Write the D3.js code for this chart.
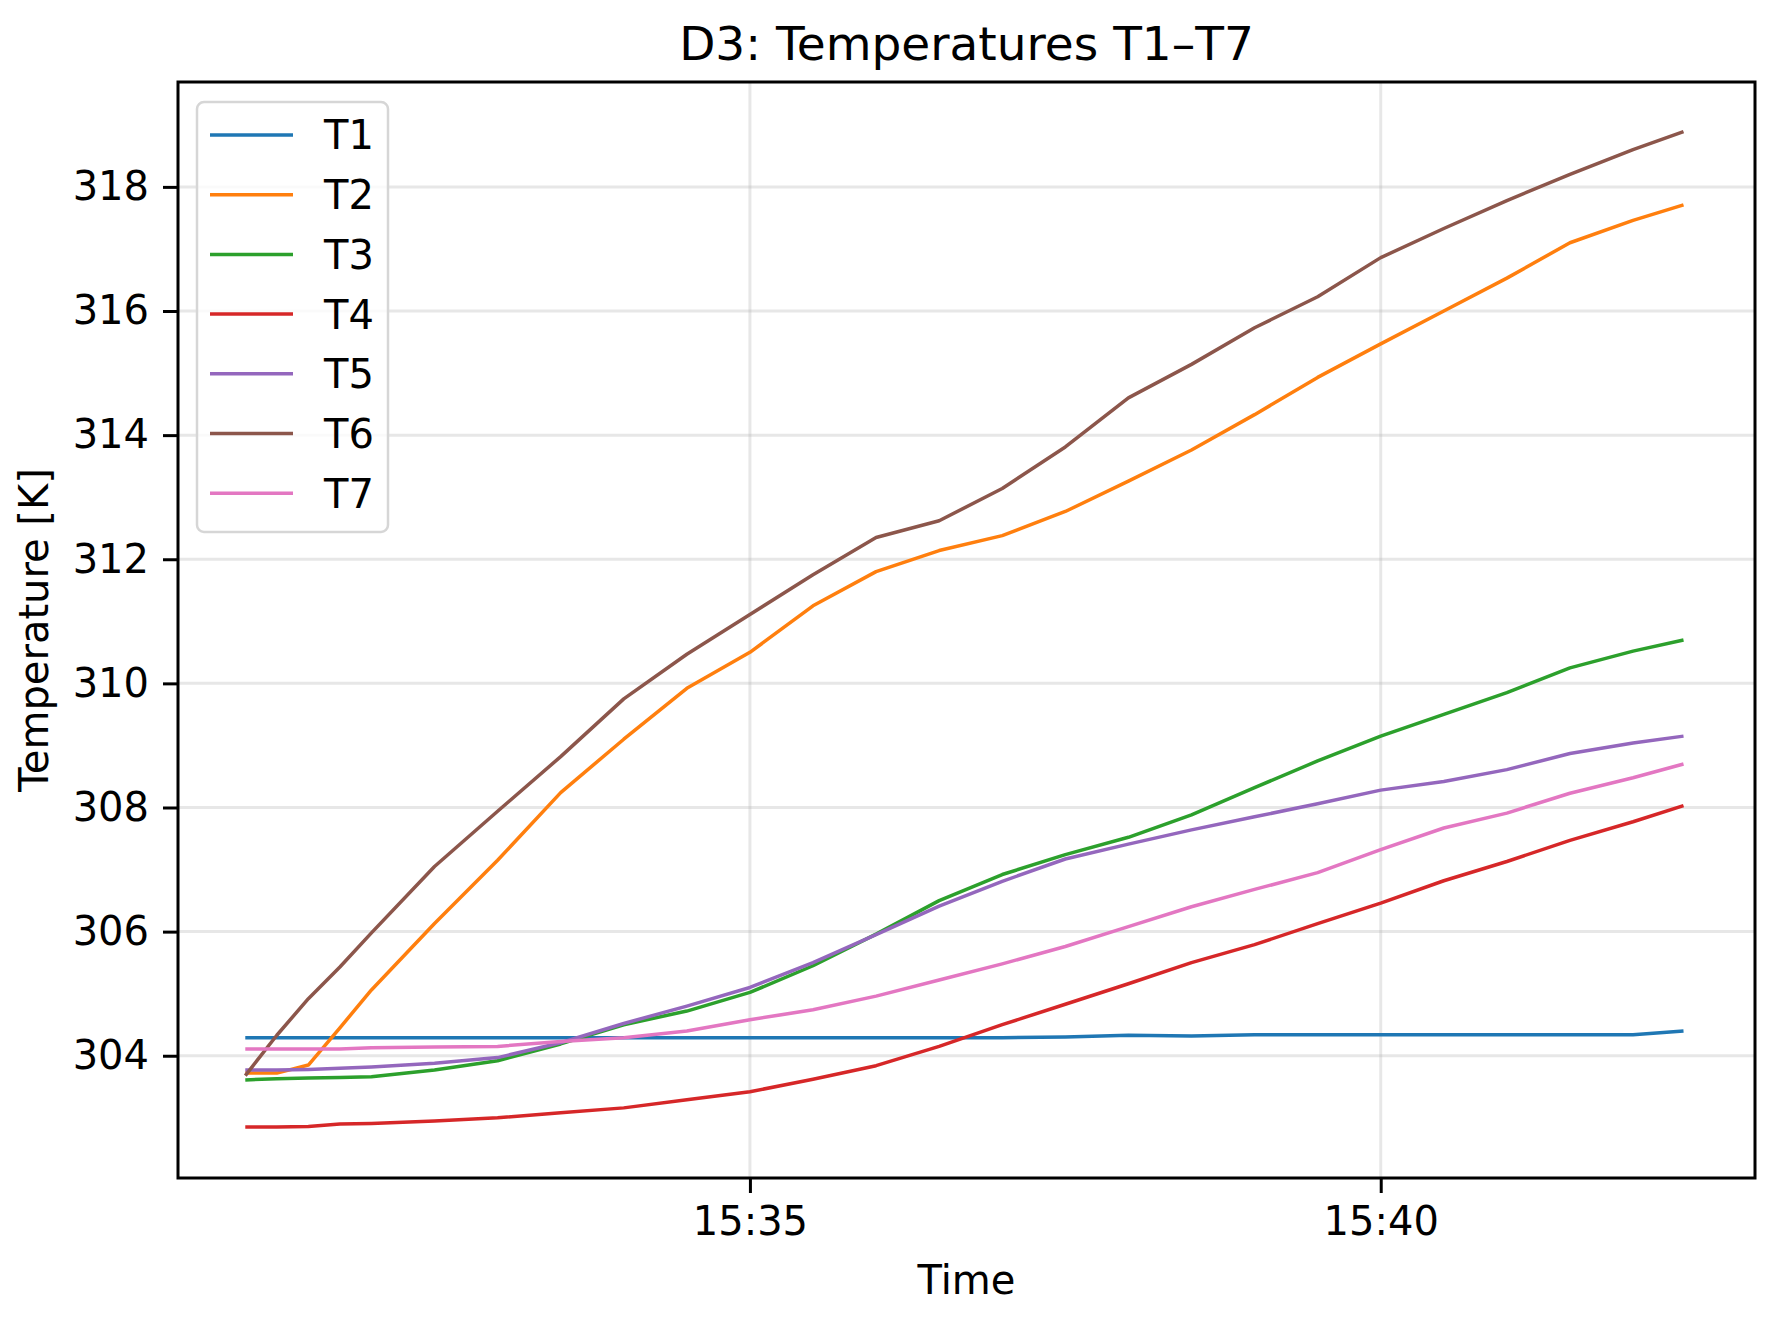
<!DOCTYPE html>
<html>
<head>
<meta charset="utf-8">
<script src="https://cdn.jsdelivr.net/npm/d3@7"></script>
<style>
    body { margin: 0; background: #fff; }
    text { font-family: "DejaVu Sans", sans-serif; fill: #000; }
</style>
</head>
<body>
<svg id="chart" width="1779" height="1326"></svg>
<script>
// sample times (HH:MM:SS)
var times = ["15:31:00", "15:31:15", "15:31:30", "15:31:45", "15:32:00", "15:32:30", "15:33:00",
    "15:33:30", "15:34:00", "15:34:30", "15:35:00", "15:35:30", "15:36:00", "15:36:30", "15:37:00",
    "15:37:30", "15:38:00", "15:38:30", "15:39:00", "15:39:30", "15:40:00", "15:40:30", "15:41:00",
    "15:41:30", "15:42:00", "15:42:24"];

// temperatures [K]
var T1 = [304.29, 304.29, 304.29, 304.29, 304.29, 304.29, 304.29, 304.29, 304.29, 304.29, 304.29, 304.29, 304.29,
    304.29, 304.29, 304.30, 304.33, 304.32, 304.34, 304.34, 304.34, 304.34, 304.34, 304.34, 304.34, 304.40];
var T2 = [303.72, 303.72, 303.85, 304.45, 305.06, 306.13, 307.15, 308.24, 309.10, 309.92, 310.50, 311.25, 311.80,
    312.14, 312.38, 312.77, 313.26, 313.76, 314.33, 314.93, 315.47, 316.00, 316.53, 317.10, 317.46, 317.71];
var T3 = [303.61, 303.63, 303.64, 303.65, 303.66, 303.77, 303.92, 304.19, 304.50, 304.72, 305.02, 305.45, 305.96,
    306.50, 306.92, 307.24, 307.52, 307.88, 308.32, 308.75, 309.15, 309.50, 309.85, 310.25, 310.52, 310.70];
var T4 = [302.85, 302.85, 302.86, 302.90, 302.91, 302.95, 303.00, 303.08, 303.16, 303.29, 303.42, 303.62, 303.84,
    304.15, 304.50, 304.83, 305.16, 305.50, 305.79, 306.13, 306.46, 306.82, 307.13, 307.47, 307.77, 308.03];
var T5 = [303.77, 303.77, 303.78, 303.80, 303.82, 303.88, 303.97, 304.21, 304.52, 304.80, 305.10, 305.50, 305.95,
    306.41, 306.81, 307.17, 307.41, 307.64, 307.85, 308.06, 308.28, 308.42, 308.61, 308.87, 309.04, 309.15];
var T6 = [303.68, 304.33, 304.92, 305.43, 305.98, 307.05, 307.94, 308.82, 309.75, 310.47, 311.11, 311.75, 312.35,
    312.62, 313.14, 313.81, 314.60, 315.14, 315.73, 316.23, 316.86, 317.33, 317.78, 318.20, 318.60, 318.89];
var T7 = [304.11, 304.11, 304.11, 304.11, 304.13, 304.14, 304.15, 304.23, 304.29, 304.40, 304.58, 304.74, 304.96,
    305.22, 305.48, 305.76, 306.08, 306.40, 306.68, 306.95, 307.32, 307.67, 307.91, 308.23, 308.48, 308.70];

var seriesNames = ["T1", "T2", "T3", "T4", "T5", "T6", "T7"];
var seriesValues = [T1, T2, T3, T4, T5, T6, T7];
var colors = ["#1f77b4", "#ff7f0e", "#2ca02c", "#d62728", "#9467bd", "#8c564b", "#e377c2"];

var xTickLabels = ["15:35", "15:40"];
var yTicks = [304, 306, 308, 310, 312, 314, 316, 318];
var xLimits = ["15:30:28", "15:42:58"];
var yLimits = [302.03, 319.69];

var plot = {left: 178, top: 82, right: 1755, bottom: 1178};
var parseTime = d3.timeParse("%H:%M:%S");
var parseHM = d3.timeParse("%H:%M");

var svg = d3.select("#chart");

var x = d3.scaleTime()
    .domain(xLimits.map(parseTime))
    .range([plot.left, plot.right]);

var y = d3.scaleLinear()
    .domain(yLimits)
    .range([plot.bottom, plot.top]);

// grid
var grid = svg.append("g").attr("class", "grid")
    .attr("stroke", "#b0b0b0")
    .attr("stroke-opacity", 0.3)
    .attr("stroke-width", 3);

grid.selectAll("line.h")
    .data(yTicks)
    .enter()
    .append("line")
    .attr("class", "h")
    .attr("x1", plot.left).attr("x2", plot.right)
    .attr("y1", function(d){ return y(d); })
    .attr("y2", function(d){ return y(d); });

grid.selectAll("line.v")
    .data(xTickLabels.map(parseHM))
    .enter()
    .append("line")
    .attr("class", "v")
    .attr("y1", plot.top).attr("y2", plot.bottom)
    .attr("x1", function(d){ return x(d); })
    .attr("x2", function(d){ return x(d); });

// series lines
var line = d3.line()
    .x(function(d){ return x(d.t); })
    .y(function(d){ return y(d.v); });

var rows = seriesNames.map(function(name, i) {
    return {
        name: name,
        color: colors[i],
        points: times.map(function(t, j){ return {t: parseTime(t), v: seriesValues[i][j]}; })
    };
});

svg.append("g")
    .selectAll("path")
    .data(rows)
    .enter()
    .append("path")
    .attr("fill", "none")
    .attr("stroke", function(d){ return d.color; })
    .attr("stroke-width", 3.5)
    .attr("stroke-linejoin", "round")
    .attr("d", function(d){ return line(d.points); });

// axes
var xAxis = d3.axisBottom(x)
    .tickValues(xTickLabels.map(parseHM))
    .tickFormat(d3.timeFormat("%H:%M"))
    .tickSize(15)
    .tickPadding(14);

var yAxis = d3.axisLeft(y)
    .tickValues(yTicks)
    .tickFormat(d3.format("d"))
    .tickSize(15)
    .tickPadding(14);

var gx = svg.append("g")
    .attr("transform", "translate(0," + plot.bottom + ")")
    .call(xAxis);

var gy = svg.append("g")
    .attr("transform", "translate(" + plot.left + ",0)")
    .call(yAxis);

[gx, gy].forEach(function(g) {
    g.select(".domain").remove();
    g.selectAll(".tick line").attr("stroke", "#000").attr("stroke-width", 3);
    g.selectAll(".tick text")
        .attr("fill", "#000")
        .style("font-size", "40px")
        .style("font-family", "DejaVu Sans");
});

// frame
svg.append("rect")
    .attr("x", plot.left).attr("y", plot.top)
    .attr("width", plot.right - plot.left)
    .attr("height", plot.bottom - plot.top)
    .attr("fill", "none")
    .attr("stroke", "#000")
    .attr("stroke-width", 3);

// title and axis labels
svg.append("text")
    .attr("x", (plot.left + plot.right) / 2)
    .attr("y", 60)
    .attr("text-anchor", "middle")
    .style("font-size", "47px")
    .text("D3: Temperatures T1\u2013T7");

svg.append("text")
    .attr("x", (plot.left + plot.right) / 2)
    .attr("y", 1294)
    .attr("text-anchor", "middle")
    .style("font-size", "40px")
    .text("Time");

svg.append("text")
    .attr("transform", "translate(48," + ((plot.top + plot.bottom) / 2) + ") rotate(-90)")
    .attr("text-anchor", "middle")
    .style("font-size", "40px")
    .text("Temperature [K]");

// legend
var legend = svg.append("g").attr("transform", "translate(197,102)");

legend.append("rect")
    .attr("width", 191)
    .attr("height", 430)
    .attr("rx", 7)
    .attr("fill", "#fff")
    .attr("fill-opacity", 0.8)
    .attr("stroke", "#d6d6d6")
    .attr("stroke-width", 2.5);

var items = legend.selectAll("g.item")
    .data(rows)
    .enter()
    .append("g")
    .attr("class", "item")
    .attr("transform", function(d, i){ return "translate(0," + (33 + i * 59.7) + ")"; });

items.append("line")
    .attr("x1", 13).attr("x2", 96)
    .attr("stroke", function(d){ return d.color; })
    .attr("stroke-width", 3.5);

items.append("text")
    .attr("x", 127)
    .attr("dy", "0.36em")
    .style("font-size", "40px")
    .text(function(d){ return d.name; });
</script>
</body>
</html>
